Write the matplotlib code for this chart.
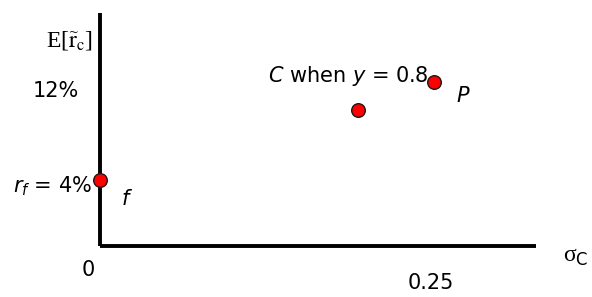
import matplotlib.pyplot as plt

plt.rcParams['font.family'] = ['DejaVu Sans']
plt.rcParams['mathtext.fontset'] = 'dejavusans'

# data (sigma, expected return in %)
point_names = ['f', 'C', 'P']
sigma = [0.0, 0.193, 0.25]
exp_ret = [4.0, 9.7, 12.0]

fig = plt.figure(figsize=(5.92, 2.97), dpi=100)
ax = fig.add_axes([100 / 592, 51 / 297, 436 / 592, 233 / 297])
ax.set_xlim(0, 0.326)
ax.set_ylim(-1.39, 17.6)

for s in ['top', 'right']:
    ax.spines[s].set_visible(False)
for s in ['left', 'bottom']:
    ax.spines[s].set_linewidth(2.8)
    ax.spines[s].set_capstyle('butt')
ax.set_xticks([])
ax.set_yticks([])
ax.patch.set_alpha(0)

ax.plot(sigma, exp_ret, 'o', ms=9.8, color='#ff0000', mec='#1a1a1a', mew=1.0,
        clip_on=False, zorder=5)

fs = 15
# point labels
ax.text(sigma[0] + 0.016, exp_ret[0] - 1.6, r'$f$', fontsize=fs, ha='left', va='center')
ax.text(sigma[2] + 0.016, exp_ret[2] - 1.2, r'$P$', fontsize=fs, ha='left', va='center')
ax.text(sigma[2] - 0.004, exp_ret[2] + 0.5, r'$C$ when $y$ = 0.8', fontsize=fs,
        ha='right', va='center')

# axis annotations
fig.text(92 / 592, 1 - 186 / 297, r'$r_f$ = 4%', fontsize=fs, ha='right', va='center')
fig.text(56 / 592, 1 - 91 / 297, '12%', fontsize=fs, ha='center', va='center')
fig.text(88 / 592, 1 - 270 / 297, '0', fontsize=fs, ha='center', va='center')
fig.text(431 / 592, 1 - 283 / 297, '0.25', fontsize=fs, ha='center', va='center')
fig.text(576 / 592, 1 - 257 / 297, r'σ$_\mathrm{C}$', fontsize=17,
         ha='center', va='center', family='Liberation Serif', math_fontfamily='dejavusans')
fig.text(70 / 592, 1 - 40 / 297, r'E[$\widetilde{\mathrm{r}}_\mathrm{c}$]', fontsize=17,
         ha='center', va='center', family='Liberation Serif', math_fontfamily='stix')

fig.savefig('out.png', dpi=100)
